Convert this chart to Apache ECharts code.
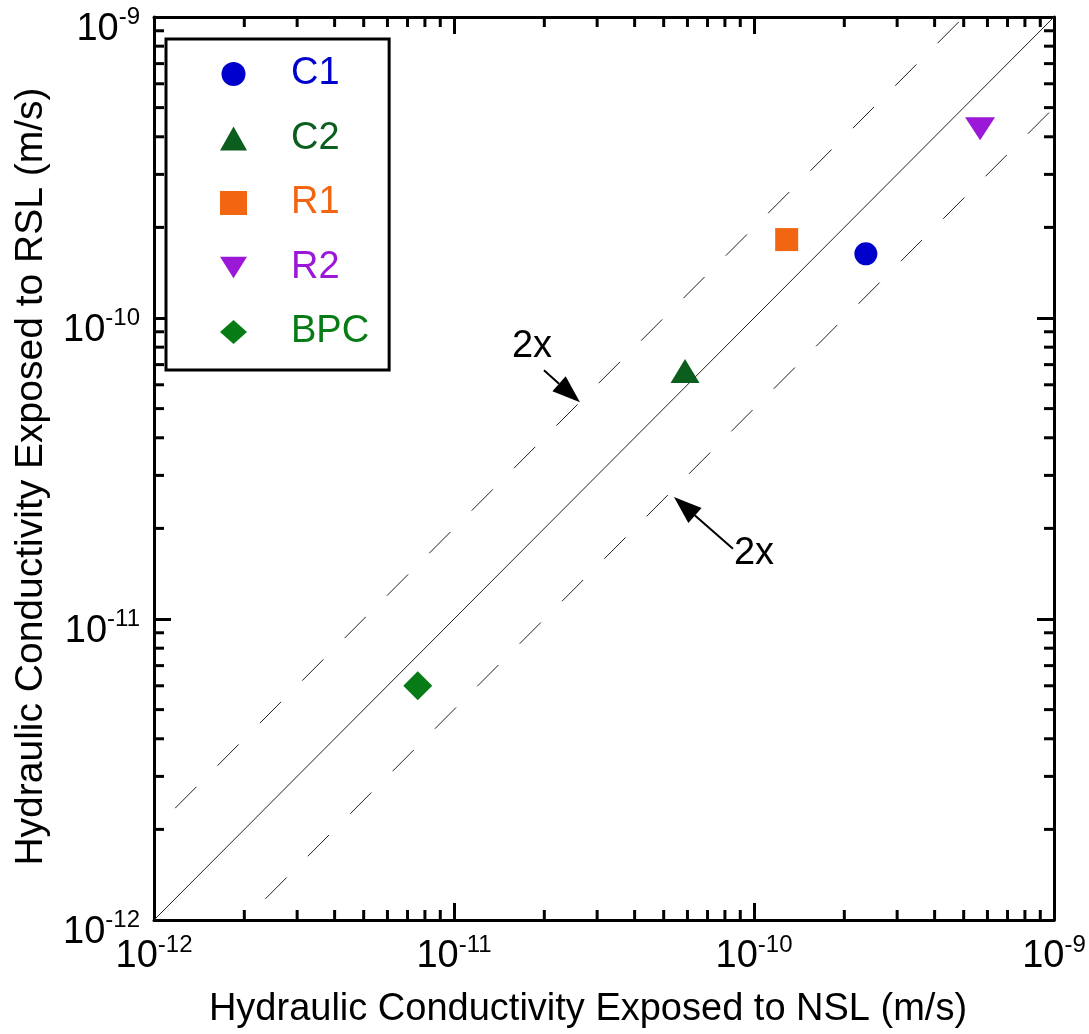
<!DOCTYPE html>
<html><head><meta charset="utf-8">
<script src="https://cdn.jsdelivr.net/npm/echarts@6/dist/echarts.min.js"></script>
<style>html,body{margin:0;padding:0;background:#fff}#c{width:1089px;height:1034px}</style>
</head><body><div id="c"></div>
<script>
const seriesNames = ['C1', 'C2', 'R1', 'R2', 'BPC'];
const nslValues = [2.36e-10, 5.89e-11, 1.285e-10, 5.67e-10, 7.57e-12];
const rslValues = [1.634e-10, 6.67e-11, 1.822e-10, 4.25e-10, 6.0e-12];
const colors = ['#0000cc', '#0b5e1e', '#f26611', '#9b18d8', '#077c16'];
const symbols = ['circle', 'triangle', 'rect', 'path://M0,0 L2,0 L1,1.6 Z', 'diamond'];
const symbolSizes = [23, [29, 24], 23, [30, 23], 29];
const tickExponents = [-12, -11, -10, -9];
const tickLabels = ['-12', '-11', '-10', '-9'];
const axisMin = 1e-12, axisMax = 1e-9;
const minorMultipliers = [2, 3, 4, 5, 6, 7, 8, 9];
const oneToOne = [[1e-12, 1e-12], [1e-9, 1e-9]];
const twiceLine = [[1e-12, 2e-12], [5e-10, 1e-9]];
const halfLine = [[2e-12, 1e-12], [1e-9, 5e-10]];
const annotationText = ['2x', '2x'];
const annotationPos = [[1.82e-11, 8.05e-11], [1.0e-10, 1.646e-11]];
const arrowTails = [[1.995e-11, 6.70e-11], [8.51e-11, 1.71e-11]];
const arrowHeads = [[2.63e-11, 5.25e-11], [5.41e-11, 2.544e-11]];
const xName = 'Hydraulic Conductivity Exposed to NSL (m/s)';
const yName = 'Hydraulic Conductivity Exposed to RSL (m/s)';

const FONT = '"Liberation Sans", Arial, Helvetica, sans-serif';
const FS = 38;
const minorVals = [];
tickExponents.slice(0, -1).forEach(e => minorMultipliers.forEach(m => minorVals.push(m * Math.pow(10, e))));

function labelFmt(v) {
  const e = Math.round(Math.log10(v));
  const i = tickExponents.indexOf(e);
  return '{b|10}{s|' + (i >= 0 ? tickLabels[i] : e) + '}';
}
const rich = {
  b: { fontSize: FS, lineHeight: 43, verticalAlign: 'bottom', fontFamily: FONT, color: '#000' },
  s: { fontSize: 24, lineHeight: 24, verticalAlign: 'top', fontFamily: FONT, color: '#000' }
};

function baseAxis(extra) {
  return Object.assign({
    type: 'log', logBase: 10, min: axisMin, max: axisMax,
    axisLine: { show: true, onZero: false, lineStyle: { color: '#000', width: 3 } },
    axisTick: { show: true, inside: true, length: 17, lineStyle: { color: '#000', width: 3 } },
    splitLine: { show: false }, minorTick: { show: false }
  }, extra);
}

const chart = echarts.init(document.getElementById('c'), null, { renderer: 'canvas' });

const scatterSeries = seriesNames.map((n, i) => ({
  name: n, type: 'scatter', symbol: symbols[i], symbolSize: symbolSizes[i],
  symbolKeepAspect: i === 0 || i === 2 || i === 4,
  itemStyle: { color: colors[i], opacity: 1 },
  data: [[nslValues[i], rslValues[i]]], z: 5
}));

function refLine(data, dashed) {
  return {
    type: 'line', data: data, symbol: 'none', silent: true, z: 2,
    lineStyle: dashed ? { color: '#222', width: 1, type: [30, 30], dashOffset: 30 } : { color: '#222', width: 1 }
  };
}

chart.setOption({
  animation: false,
  backgroundColor: '#fff',
  grid: { left: 154, right: 35, top: 17, bottom: 112 },
  xAxis: [
    baseAxis({
      position: 'bottom', name: xName, nameLocation: 'middle', nameGap: 71,
      nameTextStyle: { fontSize: FS, color: '#000', fontFamily: FONT, padding: [0, 32, 0, 0] },
      axisLabel: { show: true, margin: 13, formatter: labelFmt, rich: rich, showMinLabel: true, showMaxLabel: true }
    }),
    baseAxis({ position: 'top', axisLabel: { show: false } })
  ],
  yAxis: [
    baseAxis({
      position: 'left', name: yName, nameLocation: 'middle', nameGap: 103,
      nameTextStyle: { fontSize: 39, color: '#000', fontFamily: FONT, padding: [0, 16, 0, 0] },
      axisLabel: { show: true, margin: 14, formatter: labelFmt, rich: rich, padding: [20, 0, 0, 0], showMinLabel: true, showMaxLabel: true }
    }),
    baseAxis({ position: 'right', axisLabel: { show: false } })
  ],
  legend: {
    data: seriesNames.map((n, i) => ({ name: n, textStyle: { color: colors[i] } })),
    orient: 'vertical', left: 166, top: 39,
    itemWidth: 27, itemHeight: 24, itemGap: 26.5,
    padding: [16, 20, 19, 54],
    borderColor: '#000', borderWidth: 3, borderRadius: 0, backgroundColor: '#fff',
    textStyle: { fontSize: FS, lineHeight: 38, padding: [0, 0, 0, 39], fontFamily: FONT },
    selectedMode: false
  },
  series: [
    refLine(oneToOne, false),
    refLine(twiceLine, true),
    refLine(halfLine, true),
    {
      type: 'custom', silent: true, clip: false, z: 3,
      data: minorVals.map(v => [v, axisMin]),
      encode: { x: 0, y: 1 },
      renderItem: (params, api) => {
        const v = api.value(0);
        const pb = api.coord([v, axisMin]);
        const pt = api.coord([v, axisMax]);
        return { type: 'group', children: [
          { type: 'line', shape: { x1: pb[0], y1: pb[1], x2: pb[0], y2: pb[1] - 10 }, style: { stroke: '#000', lineWidth: 3 } },
          { type: 'line', shape: { x1: pt[0], y1: pt[1], x2: pt[0], y2: pt[1] + 10 }, style: { stroke: '#000', lineWidth: 3 } }
        ] };
      }
    },
    {
      type: 'custom', silent: true, clip: false, z: 3,
      data: minorVals.map(v => [axisMin, v]),
      encode: { x: 0, y: 1 },
      renderItem: (params, api) => {
        const v = api.value(1);
        const pl = api.coord([axisMin, v]);
        const pr = api.coord([axisMax, v]);
        return { type: 'group', children: [
          { type: 'line', shape: { x1: pl[0], y1: pl[1], x2: pl[0] + 10, y2: pl[1] }, style: { stroke: '#000', lineWidth: 3 } },
          { type: 'line', shape: { x1: pr[0], y1: pr[1], x2: pr[0] - 10, y2: pr[1] }, style: { stroke: '#000', lineWidth: 3 } }
        ] };
      }
    },
    {
      type: 'custom', silent: true, clip: false, z: 6,
      data: arrowTails.map((t, i) => [t[0], t[1], arrowHeads[i][0], arrowHeads[i][1]]),
      encode: { x: [0, 2], y: [1, 3] },
      renderItem: (params, api) => {
        const a = api.coord([api.value(0), api.value(1)]);
        const b = api.coord([api.value(2), api.value(3)]);
        const dx = b[0] - a[0], dy = b[1] - a[1];
        const L = Math.sqrt(dx * dx + dy * dy);
        const ux = dx / L, uy = dy / L;
        const hl = 28, hw = 10;
        const bx = b[0] - ux * hl, by = b[1] - uy * hl;
        return { type: 'group', children: [
          { type: 'line', shape: { x1: a[0], y1: a[1], x2: bx, y2: by }, style: { stroke: '#000', lineWidth: 2 } },
          { type: 'polygon', shape: { points: [[b[0], b[1]], [bx - uy * hw, by + ux * hw], [bx + uy * hw, by - ux * hw]] }, style: { fill: '#000' } }
        ] };
      }
    },
    {
      type: 'custom', silent: true, clip: false, z: 6,
      data: annotationPos.map((p, i) => [p[0], p[1], i]),
      encode: { x: 0, y: 1 },
      renderItem: (params, api) => {
        const p = api.coord([api.value(0), api.value(1)]);
        return { type: 'text', x: p[0], y: p[1], style: { text: annotationText[api.value(2)], fontSize: FS, fontFamily: FONT, fill: '#000', align: 'center', verticalAlign: 'middle' } };
      }
    }
  ].concat(scatterSeries)
});
</script></body></html>
